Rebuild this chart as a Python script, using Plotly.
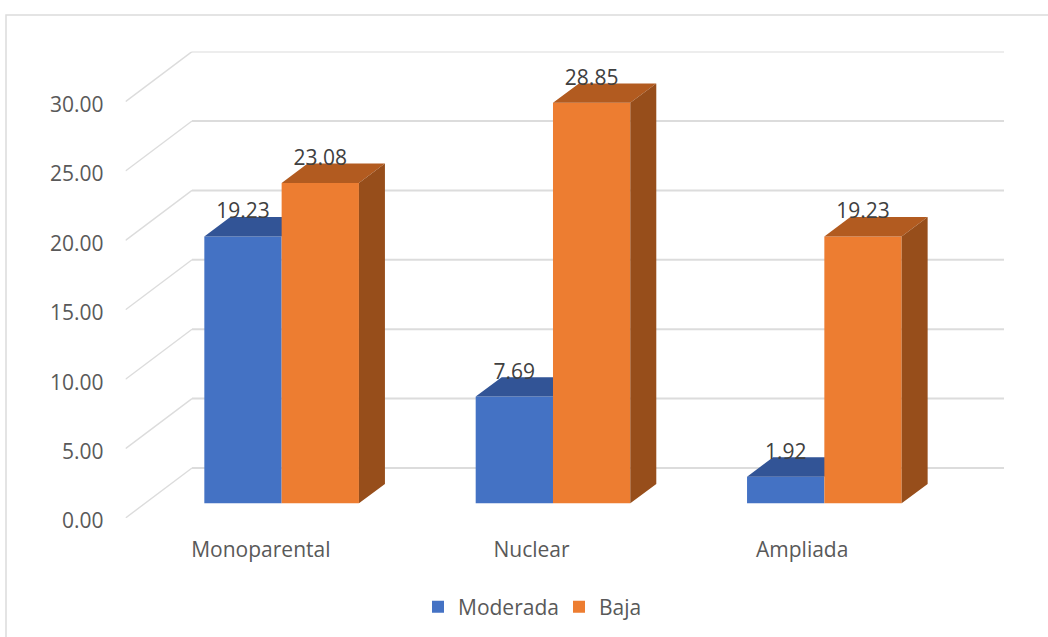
import plotly.graph_objects as go

categories = ["Monoparental", "Nuclear", "Ampliada"]
moderada = [19.23, 7.69, 1.92]
baja = [23.08, 28.85, 19.23]
y_ticks = [0, 5, 10, 15, 20, 25, 30]

W, H = 1048, 637
X0, X1 = 125.5, 1004      # axis span in window pixels
Y0, Y1 = 518, 51.5
PX_CAT = 270.67           # pixels per category
PX_VAL = 13.88            # pixels per value unit
x_max = (X1 - X0) / PX_CAT
y_max = (Y0 - Y1) / PX_VAL

WALL_DX, WALL_DY = 66.5 / PX_CAT, 50 / PX_VAL
BAR_W = 77.3 / PX_CAT
BAR_OFF = 20.8 / PX_CAT
BAR_STEP = 271.35 / PX_CAT
BASE = 14.7 / PX_VAL
DEPTH_X, DEPTH_Y = 26 / PX_CAT, 19.4 / PX_VAL
LABEL_UP = 23.2 / PX_VAL

FONT = "Open Sans"
BLUE, BLUE_TOP = "#4472C4", "#325496"
ORANGE, ORANGE_TOP, ORANGE_SIDE = "#ED7D31", "#B25B20", "#974E1B"
GRID = "#DCDCDC"

centers = [0.5 + BAR_OFF + i * BAR_STEP for i in range(len(categories))]
blue_x = [c - BAR_W / 2 for c in centers]
orange_x = [c + BAR_W / 2 for c in centers]


def tops(xs, vals):
    px, py = [], []
    for x, v in zip(xs, vals):
        l, r, t = x - BAR_W / 2, x + BAR_W / 2, v + BASE
        px += [l, l + DEPTH_X, r + DEPTH_X, r, l, None]
        py += [t, t + DEPTH_Y, t + DEPTH_Y, t, t, None]
    return px, py


def sides(xs, vals):
    px, py = [], []
    for x, v in zip(xs, vals):
        r, t = x + BAR_W / 2, v + BASE
        px += [r, r + DEPTH_X, r + DEPTH_X, r, r, None]
        py += [BASE, BASE + DEPTH_Y, t + DEPTH_Y, t, BASE, None]
    return px, py


fig = go.Figure()

# Back wall and side wall gridlines
for t in y_ticks:
    fig.add_trace(go.Scatter(x=[0, WALL_DX], y=[t, t + WALL_DY], mode="lines",
                             line=dict(color=GRID, width=1.4), showlegend=False,
                             hoverinfo="skip"))
    fig.add_trace(go.Scatter(x=[WALL_DX, x_max], y=[t + WALL_DY, t + WALL_DY], mode="lines",
                             line=dict(color=GRID, width=2), showlegend=False,
                             hoverinfo="skip"))

# Moderada, one layer above the walls
fig.add_trace(go.Bar(x=blue_x, y=moderada, base=BASE, width=BAR_W, name="Moderada",
                     marker=dict(color=BLUE, line=dict(width=0)), xaxis="x2", yaxis="y2"))
px, py = tops(blue_x, moderada)
fig.add_trace(go.Scatter(x=px, y=py, mode="none", fill="toself", fillcolor=BLUE_TOP,
                         showlegend=False, hoverinfo="skip", xaxis="x2", yaxis="y2"))

# Baja, one layer above Moderada
fig.add_trace(go.Bar(x=orange_x, y=baja, base=BASE, width=BAR_W, name="Baja",
                     marker=dict(color=ORANGE, line=dict(width=0)), xaxis="x3", yaxis="y3"))
px, py = tops(orange_x, baja)
fig.add_trace(go.Scatter(x=px, y=py, mode="none", fill="toself", fillcolor=ORANGE_TOP,
                         showlegend=False, hoverinfo="skip", xaxis="x3", yaxis="y3"))
px, py = sides(orange_x, baja)
fig.add_trace(go.Scatter(x=px, y=py, mode="none", fill="toself", fillcolor=ORANGE_SIDE,
                         showlegend=False, hoverinfo="skip", xaxis="x3", yaxis="y3"))

# Data labels
for xs, vals in ((blue_x, moderada), (orange_x, baja)):
    fig.add_trace(go.Scatter(x=xs, y=[v + BASE + LABEL_UP for v in vals], mode="text",
                             text=[f"{v:.2f}" for v in vals], textposition="middle center",
                             textfont=dict(family=FONT, size=21, color="#404040"),
                             showlegend=False, hoverinfo="skip", xaxis="x3", yaxis="y3"))

x_dom = [X0 / W, X1 / W]
y_dom = [(H - Y0) / H, (H - Y1) / H]
hidden = dict(domain=x_dom, range=[0, x_max], visible=False, fixedrange=True)
hidden_y = dict(domain=y_dom, range=[0, y_max], visible=False, fixedrange=True)

fig.update_layout(
    width=W, height=H, margin=dict(l=0, r=0, t=0, b=0, autoexpand=False),
    paper_bgcolor="white", plot_bgcolor="rgba(0,0,0,0)", barmode="overlay",
    xaxis=dict(domain=x_dom, range=[0, x_max], showgrid=False, zeroline=False, showline=False,
               tickmode="array", tickvals=[0.5 + i for i in range(len(categories))],
               ticktext=categories, ticks="", ticklabelstandoff=17,
               tickfont=dict(family=FONT, size=21, color="#595959")),
    yaxis=dict(domain=y_dom, range=[0, y_max], showgrid=False, zeroline=False, showline=False,
               tickmode="array", tickvals=y_ticks, ticktext=[f"{t:.2f}" for t in y_ticks],
               ticks="", ticklabelstandoff=21, ticklabelshift=3,
               tickfont=dict(family=FONT, size=21, color="#595959")),
    xaxis2=dict(hidden, overlaying="x", anchor="y2"),
    yaxis2=dict(hidden_y, overlaying="y", anchor="x2"),
    xaxis3=dict(hidden, overlaying="x", anchor="y3"),
    yaxis3=dict(hidden_y, overlaying="y", anchor="x3"),
    legend=dict(orientation="h", x=418 / W, xanchor="left", y=(H - 607) / H, yanchor="middle",
                entrywidth=96, entrywidthmode="pixels",
                font=dict(family=FONT, size=21, color="#595959"),
                bgcolor="rgba(0,0,0,0)"),
    shapes=[dict(type="path", xref="paper", yref="paper",
                 path=f"M {6/W} 0 L {6/W} {(H-15)/H} L 1 {(H-15)/H}",
                 line=dict(color="#DCDCDC", width=1.5), layer="below")],
)

fig.write_html("out.html", config=dict(displayModeBar=False),
               post_script="document.body.style.margin='0';window.dispatchEvent(new Event('resize'));")
